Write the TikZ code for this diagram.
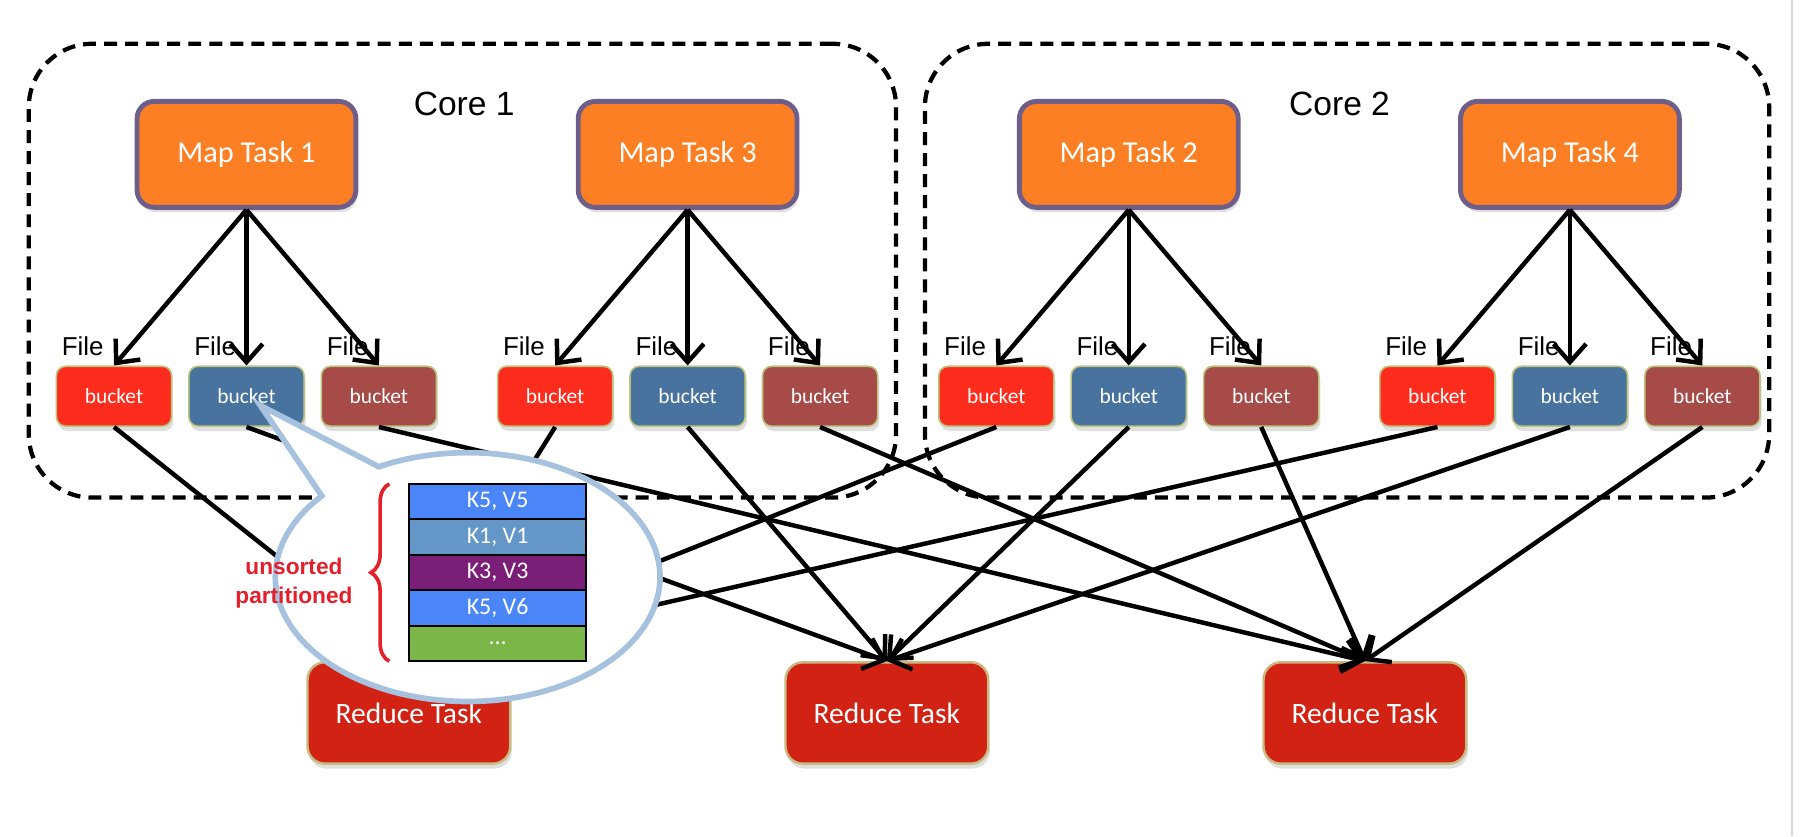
\documentclass[tikz,border=0pt]{standalone}
\usepackage{fontspec}
\setmainfont{Liberation Sans}
\newfontfamily\calibri{Carlito}
\usepackage{tikz}
\usetikzlibrary{arrows.meta,positioning,shadows,decorations.pathreplacing}

\definecolor{mapfill}{HTML}{FD7F23}
\definecolor{mapline}{HTML}{6E5E8A}
\definecolor{bred}{HTML}{FE2C1D}
\definecolor{bblue}{HTML}{48739F}
\definecolor{bbrown}{HTML}{A64B47}
\definecolor{bline}{HTML}{BCC47E}
\definecolor{redfill}{HTML}{D22214}
\definecolor{redline}{HTML}{C9BB80}
\definecolor{calloutline}{HTML}{A7C2DF}
\definecolor{kvblue}{HTML}{4A86F8}
\definecolor{kvsteel}{HTML}{6497C8}
\definecolor{kvpurple}{HTML}{7A1E78}
\definecolor{kvgreen}{HTML}{7AB648}
\definecolor{notered}{HTML}{E3202B}

\begin{document}
\begin{tikzpicture}[->,>={Straight Barb[length=4.5pt,width=8pt]},line width=1.1pt,node distance=3.83cm]
  \tikzstyle{core}=[draw,dashed,dash pattern=on 3.2pt off 2pt,line width=1.05pt,rounded corners=0.55cm,minimum height=3.94cm]
  \tikzstyle{corelabel}=[font=\fontsize{8.3}{10}\selectfont]
  \tikzstyle{map}=[draw=mapline,line width=1.2pt,fill=mapfill,rounded corners=0.15cm,minimum width=1.90cm,minimum height=0.92cm,text=white,font=\calibri\fontsize{7.5}{9}\selectfont,drop shadow={opacity=0.25,shadow xshift=0.4pt,shadow yshift=-1.2pt}]
  \tikzstyle{bucket}=[node distance=1.15cm,draw=bline,line width=0.4pt,rounded corners=0.08cm,minimum width=1.0cm,minimum height=0.52cm,text=white,font=\calibri\fontsize{5.3}{6}\selectfont,drop shadow={opacity=0.25,shadow xshift=0.4pt,shadow yshift=-1.2pt}]
  \tikzstyle{file}=[inner sep=1pt,font=\fontsize{6.4}{7}\selectfont]
  \tikzstyle{reduce}=[node distance=4.15cm,draw=redline,line width=0.6pt,fill=redfill,rounded corners=0.15cm,minimum width=1.76cm,minimum height=0.88cm,text=white,font=\calibri\fontsize{7.3}{9}\selectfont,drop shadow={opacity=0.25,shadow xshift=0.4pt,shadow yshift=-1.2pt}]
  \tikzstyle{callout}=[-,draw=calloutline,line width=1.4pt,fill=white]
  \tikzstyle{kv}=[draw=black,line width=0.5pt,minimum width=1.54cm,minimum height=0.308cm,inner sep=0pt,outer sep=0pt,text=white,font=\calibri\fontsize{5.9}{7}\selectfont]
  \tikzstyle{brace}=[-,draw=notered,line width=0.9pt,decorate,decoration={brace,amplitude=1.6mm}]
  \tikzstyle{note}=[inner sep=0pt,align=center,text=notered,font=\bfseries\fontsize{5.6}{7.2}\selectfont]

  \useasboundingbox (0,0) rectangle (15.68,-7.26);
  \draw[-,gray!30,line width=0.6pt] (15.56,0) -- (15.56,-7.26);

  % the two cores
  \node[core,minimum width=7.53cm] (C1) at (4.015,-2.35) {};
  \node[core,minimum width=7.33cm] (C2) at (11.695,-2.35) {};
  \node[corelabel] (C1label) at (4.03,-0.90) {Core 1};
  \node[corelabel] (C2label) at (11.63,-0.90) {Core 2};

  % map tasks
  \node[map] (M1) at (2.14,-1.34) {Map Task 1};
  \node[map] (M3) [right of=M1] {Map Task 3};
  \node[map] (M2) [right of=M3] {Map Task 2};
  \node[map] (M4) [right of=M2] {Map Task 4};

  % buckets, one file each
  \foreach \m in {1,2,3,4} {
    \node[bucket,fill=bblue,node distance=2.10cm,below of=M\m] (B\m2) {bucket};
    \node[bucket,fill=bred,left of=B\m2] (B\m1) {bucket};
    \node[bucket,fill=bbrown,right of=B\m2] (B\m3) {bucket};
    \foreach \b in {1,2,3}
      \node[file,above right=0.03cm and 0cm of B\m\b.north west] (F\m\b) {File};
    \path (M\m.south) edge (B\m1.north)
                      edge (B\m2.north)
                      edge (B\m3.north);
  }

  % reduce tasks
  \node[reduce] (R1) at (3.55,-6.19) {Reduce Task};
  \node[reduce] (R2) [right of=R1] {Reduce Task};
  \node[reduce] (R3) [right of=R2] {Reduce Task};

  \foreach \m in {1,2,3,4}
    \path (B\m1.south) edge (R1.north)
          (B\m2.south) edge (R2.north)
          (B\m3.south) edge (R3.north);

  % zoom on one bucket
  \coordinate (tip) at (2.26,-3.52);
  \coordinate (ec) at (4.06,-5.01);
  \draw[callout] (tip) -- ([shift={(117.5:1.67 and 1.08)}]ec)
    arc[start angle=117.5,end angle=-220.7,x radius=1.67,y radius=1.08] -- cycle;

  \node[kv,fill=kvblue] (kv1) at (4.32,-4.355) {K5, V5};
  \node[kv,fill=kvsteel] (kv2) [below=0pt of kv1] {K1, V1};
  \node[kv,fill=kvpurple] (kv3) [below=0pt of kv2] {K3, V3};
  \node[kv,fill=kvblue] (kv4) [below=0pt of kv3] {K5, V6};
  \node[kv,fill=kvgreen] (kv5) [below=0pt of kv4] {...};

  \draw[brace] ([xshift=-1.7mm]kv5.south west) -- ([xshift=-1.7mm]kv1.north west);
  \node[note,left=0.47cm of kv3.west,yshift=-0.09cm] (unsorted) {unsorted\\partitioned};
\end{tikzpicture}
\end{document}
